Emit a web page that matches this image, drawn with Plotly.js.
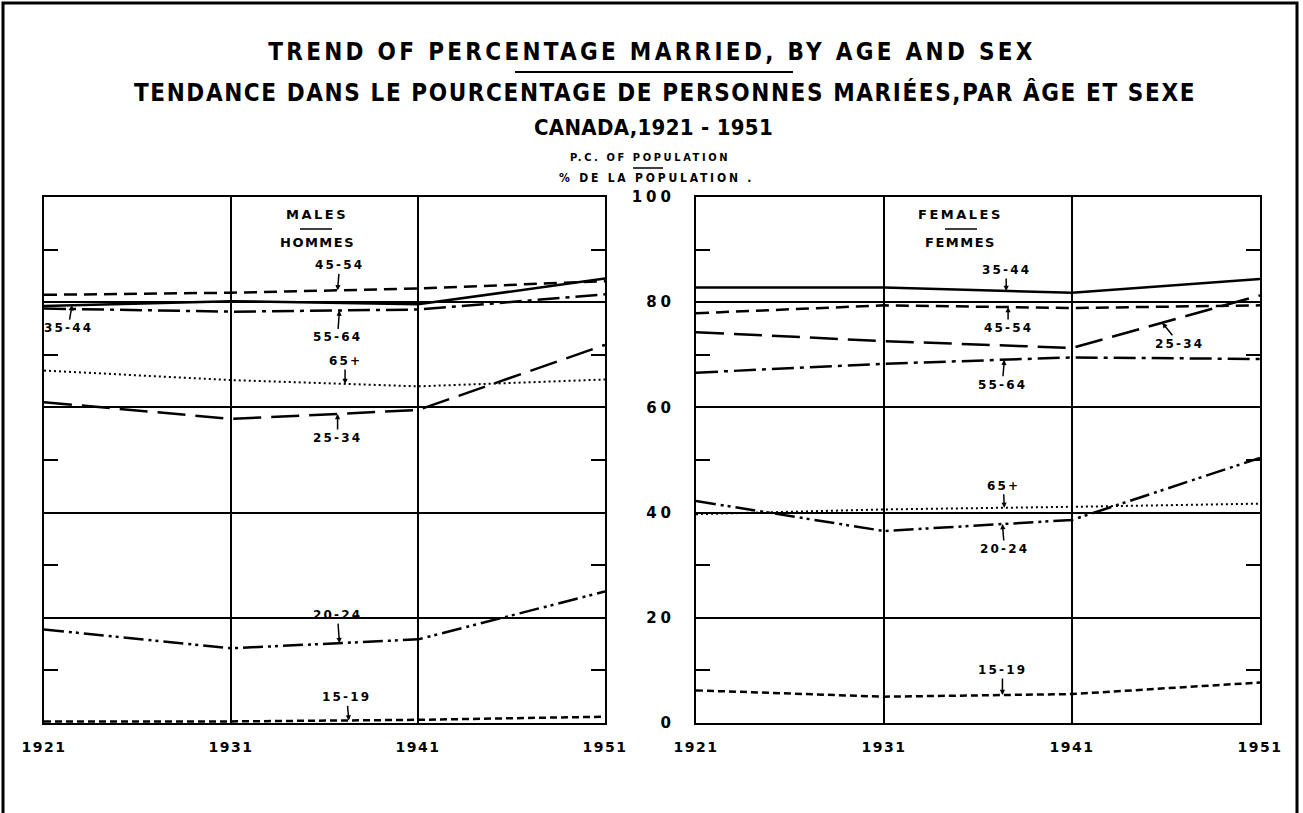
<!DOCTYPE html>
<html><head><meta charset="utf-8">
<script src="https://cdn.plot.ly/plotly-3.0.1.min.js"></script>
<style>html,body{margin:0;padding:0;background:#fff;} #chart{width:1303px;height:813px;}</style>
</head><body><div id="chart"></div>
<script>
// ---- data ----
const years = [1921, 1931, 1941, 1951];
const ageGroups = ["15-19", "20-24", "25-34", "35-44", "45-54", "55-64", "65+"];

const males_15_19  = [0.3, 0.3, 0.6, 1.2];
const males_20_24  = [17.8, 14.2, 15.9, 25.0];
const males_25_34  = [61.0, 57.8, 59.5, 71.9];
const males_35_44  = [79.3, 80.2, 79.6, 84.5];
const males_45_54  = [81.4, 81.8, 82.6, 84.0];
const males_55_64  = [78.8, 78.2, 78.6, 81.5];
const males_65plus = [67.0, 65.2, 64.0, 65.3];

const females_15_19  = [6.2, 5.0, 5.5, 7.7];
const females_20_24  = [42.2, 36.5, 38.6, 50.4];
const females_25_34  = [74.3, 72.6, 71.3, 81.3];
const females_35_44  = [82.8, 82.8, 81.8, 84.4];
const females_45_54  = [77.9, 79.4, 78.9, 79.4];
const females_55_64  = [66.6, 68.3, 69.5, 69.2];
const females_65plus = [39.7, 40.6, 41.1, 41.7];

const maleSeries = [males_15_19, males_20_24, males_25_34, males_35_44, males_45_54, males_55_64, males_65plus];
const femaleSeries = [females_15_19, females_20_24, females_25_34, females_35_44, females_45_54, females_55_64, females_65plus];

const yTickVals = [0, 20, 40, 60, 80, 100];
const yTickText = ["0", "20", "40", "60", "80", "100"];
const xTickText = ["1921", "1931", "1941", "1951"];

// ---- styles ----
const dashStyles = {
  "15-19": "7px,4px",
  "20-24": "20px,5px,3px,4px,3px,5px",
  "25-34": "28px,10px",
  "35-44": "solid",
  "45-54": "13px,7px",
  "55-64": "22px,6px,4px,6px",
  "65+":   "2px,3px"
};
const lineWidths = {"15-19":2.5,"20-24":2.5,"25-34":2.5,"35-44":2.5,"45-54":2.5,"55-64":2.5,"65+":2};

// label leader placement: [year where arrow touches, dx px, dy px]
const maleLabelPos = {
  "15-19": [1937.3, -2, -23], "20-24": [1936.8, -2, -28], "25-34": [1936.7, 0, 24],
  "35-44": [1922.5, -4, 23], "45-54": [1936.7, 2, -25], "55-64": [1936.8, -2, 27],
  "65+": [1937.1, 0, -23]
};
const femaleLabelPos = {
  "15-19": [1937.3, 0, -25], "20-24": [1937.3, 2, 25], "25-34": [1945.8, 17, 21],
  "35-44": [1937.5, 0, -21], "45-54": [1937.6, 0, 21], "55-64": [1937.4, -2, 25],
  "65+": [1937.4, -1, -22]
};

function sp(text, ls) { return '<span style="letter-spacing:' + ls + 'px">' + text + '</span>'; }

function interp(xs, ys, x) {
  for (let i = 0; i < xs.length - 1; i++) {
    if (x >= xs[i] && x <= xs[i + 1]) {
      const t = (x - xs[i]) / (xs[i + 1] - xs[i]);
      return ys[i] + t * (ys[i + 1] - ys[i]);
    }
  }
  return ys[ys.length - 1];
}

const traces = [];
const annotations = [];
const labelFont = {family: "DejaVu Sans", size: 12, color: "#000", weight: "bold"};

ageGroups.forEach((g, i) => {
  traces.push({x: years, y: maleSeries[i], xaxis: "x", yaxis: "y", mode: "lines", name: g,
    line: {color: "#000", width: lineWidths[g], dash: dashStyles[g]}, hoverinfo: "x+y+name"});
  traces.push({x: years, y: femaleSeries[i], xaxis: "x2", yaxis: "y2", mode: "lines", name: g,
    line: {color: "#000", width: lineWidths[g], dash: dashStyles[g]}, hoverinfo: "x+y+name"});
  const mp = maleLabelPos[g];
  annotations.push({xref: "x", yref: "y", x: mp[0], y: interp(years, maleSeries[i], mp[0]),
    text: sp(g, 2.2), showarrow: true, ax: mp[1], ay: mp[2], arrowhead: 2, arrowsize: 0.7, arrowwidth: 1.5,
    arrowcolor: "#000", font: labelFont});
  const fp = femaleLabelPos[g];
  annotations.push({xref: "x2", yref: "y2", x: fp[0], y: interp(years, femaleSeries[i], fp[0]),
    text: sp(g, 2.2), showarrow: true, ax: fp[1], ay: fp[2], arrowhead: 2, arrowsize: 0.7, arrowwidth: 1.5,
    arrowcolor: "#000", font: labelFont});
});

const W = 1303, H = 813;
const px = v => v / W;
const py = v => 1 - v / H;
const condFamily = "DejaVu Sans Condensed, DejaVu Sans";

function note(text, x, y, size, family, weight) {
  return {xref: "paper", yref: "paper", x: x, y: y, xanchor: "center", yanchor: "middle",
    text: text, showarrow: false, font: {family: family || condFamily, size: size, color: "#000", weight: weight || "normal"}};
}
annotations.push(note(sp("TENDANCE DANS LE POURCENTAGE DE PERSONNES MARIÉES,PAR ÂGE ET SEXE", 1.6), px(665), py(92), 24, null, "bold"));
annotations.push(note(sp("CANADA,1921 - 1951", 0.3), px(653), py(128), 22, null, "bold"));
annotations.push(note(sp("P.C. OF POPULATION", 2.6), px(650), py(157), 11, null, "bold"));
annotations.push(note(sp("% DE LA POPULATION .", 2.8), px(656), py(178), 12, null, "bold"));
annotations.push(note(sp("MALES", 2.5), px(317), py(214), 13, "DejaVu Sans", "bold"));
annotations.push(note(sp("HOMMES", 1.5), px(317), py(243), 13, "DejaVu Sans", "bold"));
annotations.push(note(sp("FEMALES", 2.5), px(960), py(214), 13, "DejaVu Sans", "bold"));
annotations.push(note(sp("FEMMES", 1.5), px(960), py(243), 13, "DejaVu Sans", "bold"));

const shapes = [
  {type: "line", xref: "paper", yref: "paper", x0: px(515), x1: px(793), y0: py(72), y1: py(72), line: {color: "#000", width: 2}},
  {type: "line", xref: "paper", yref: "paper", x0: px(633), x1: px(663), y0: py(168), y1: py(168), line: {color: "#000", width: 1.5}},
  {type: "line", xref: "paper", yref: "paper", x0: px(300), x1: px(332), y0: py(229), y1: py(229), line: {color: "#000", width: 1.5}},
  {type: "line", xref: "paper", yref: "paper", x0: px(945), x1: px(977), y0: py(229), y1: py(229), line: {color: "#000", width: 1.5}},
  {type: "rect", xref: "paper", yref: "paper", x0: px(3), x1: px(1297), y0: -0.1, y1: py(3), line: {color: "#000", width: 3}}
];

const xbase = {range: [1921, 1951], tickvals: years, ticktext: xTickText.map(t => sp(t, 1.5)), showgrid: true, gridcolor: "#000", gridwidth: 1.5,
  showline: true, linecolor: "#000", linewidth: 2, mirror: true, ticks: "", zeroline: false, ticklabelstandoff: 10,
  tickfont: {family: "DejaVu Sans", size: 14, color: "#000", weight: "bold"}, fixedrange: true};
const ybase = {range: [0, 100], tickvals: yTickVals, ticktext: yTickText.map(t => sp(t, 4)), showgrid: true, gridcolor: "#000", gridwidth: 1.5,
  showline: true, linecolor: "#000", linewidth: 2, mirror: "ticks", ticks: "inside", ticklen: 14, tickcolor: "#000", tickwidth: 1.5,
  minor: {dtick: 10, tick0: 0, ticks: "inside", ticklen: 14, tickcolor: "#000", tickwidth: 1.5, showgrid: false},
  zeroline: false, fixedrange: true, tickfont: {family: "DejaVu Sans", size: 15, color: "#000", weight: "bold"}};

const layout = {
  width: W, height: H, margin: {l: 0, r: 0, t: 0, b: 0}, showlegend: false,
  paper_bgcolor: "#fff", plot_bgcolor: "#fff",
  title: {text: sp("TREND OF PERCENTAGE MARRIED, BY AGE AND SEX", 3.3), x: px(652), xanchor: "center", y: py(52), yanchor: "middle",
    font: {family: condFamily, size: 24, color: "#000", weight: "bold"}},
  xaxis: Object.assign({}, xbase, {domain: [px(44), px(605)], anchor: "y"}),
  yaxis: Object.assign({}, ybase, {domain: [py(723), py(197)], anchor: "x", showticklabels: false}),
  xaxis2: Object.assign({}, xbase, {domain: [px(696), px(1260)], anchor: "y2"}),
  yaxis2: Object.assign({}, ybase, {domain: [py(723), py(197)], anchor: "x2", side: "left", showticklabels: true, ticklabelstandoff: 16}),
  annotations: annotations,
  shapes: shapes
};

Plotly.newPlot("chart", traces, layout, {displayModeBar: false});
</script>
</body></html>
